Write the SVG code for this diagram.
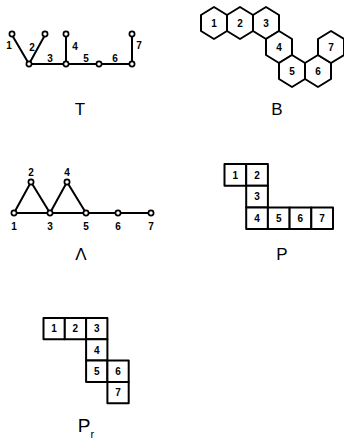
<svg xmlns="http://www.w3.org/2000/svg" width="344" height="442" viewBox="0 0 344 442">
<defs>
<style>
.edge{stroke:#000;stroke-width:2;fill:none;stroke-linecap:round}
.v{fill:#fff;stroke:#000;stroke-width:1.7}
.lbl{font-family:"Liberation Sans",Arial,sans-serif;font-weight:bold;font-size:10px;fill:#000;text-anchor:middle}
.cell{fill:#fff;stroke:#000;stroke-width:2;stroke-linejoin:round}
.title{font-family:"Liberation Sans",Arial,sans-serif;font-size:17px;fill:#000;text-anchor:middle}
</style>
<polygon id="hex" points="0,-16 13,-8 13,8 0,16 -13,8 -13,-8"/>
</defs>
<rect width="344" height="442" fill="#fff"/>

<!-- T -->
<g id="graphT">
<g id="T-edges">
<line class="edge" x1="12" y1="35" x2="29" y2="64"/>
<line class="edge" x1="45" y1="35" x2="29" y2="64"/>
<line class="edge" x1="66" y1="35" x2="66" y2="64"/>
<line class="edge" x1="132" y1="35" x2="132" y2="64"/>
<line class="edge" x1="29" y1="64" x2="132" y2="64"/>
</g>
<g id="T-nodes">
<circle class="v" cx="12" cy="34" r="2.6"/>
<circle class="v" cx="45" cy="34" r="2.6"/>
<circle class="v" cx="66" cy="34" r="2.6"/>
<circle class="v" cx="132" cy="34" r="2.6"/>
<circle class="v" cx="29" cy="64" r="2.6"/>
<circle class="v" cx="66" cy="64" r="2.6"/>
<circle class="v" cx="99" cy="64" r="2.6"/>
<circle class="v" cx="132" cy="64" r="2.6"/>
</g>
<text class="lbl" x="9" y="49">1</text>
<text class="lbl" x="32" y="51">2</text>
<text class="lbl" x="50" y="62">3</text>
<text class="lbl" x="75" y="50">4</text>
<text class="lbl" x="86" y="62">5</text>
<text class="lbl" x="115" y="62">6</text>
<text class="lbl" x="139" y="49">7</text>
<text class="title" x="80" y="115">T</text>
</g>

<!-- B -->
<g id="graphB">
<g id="hex1"><use href="#hex" class="cell" x="214" y="23"/><text class="lbl" x="214" y="27">1</text></g>
<g id="hex2"><use href="#hex" class="cell" x="240" y="23"/><text class="lbl" x="240" y="27">2</text></g>
<g id="hex3"><use href="#hex" class="cell" x="266" y="23"/><text class="lbl" x="266" y="27">3</text></g>
<g id="hex4"><use href="#hex" class="cell" x="279" y="47"/><text class="lbl" x="279" y="51">4</text></g>
<g id="hex5"><use href="#hex" class="cell" x="292" y="71"/><text class="lbl" x="292" y="75">5</text></g>
<g id="hex6"><use href="#hex" class="cell" x="318" y="71"/><text class="lbl" x="318" y="75">6</text></g>
<g id="hex7"><use href="#hex" class="cell" x="331" y="47"/><text class="lbl" x="331" y="51">7</text></g>
<text class="title" x="277" y="115">B</text>
</g>

<!-- Lambda -->
<g id="graphL">
<g id="L-edges">
<line class="edge" x1="14" y1="213" x2="151" y2="213"/>
<polyline class="edge" points="14,213 31,182 50,213 67,182 86,213"/>
</g>
<g id="L-nodes">
<circle class="v" cx="14" cy="213" r="2.6"/>
<circle class="v" cx="31" cy="182" r="2.6"/>
<circle class="v" cx="50" cy="213" r="2.6"/>
<circle class="v" cx="67" cy="182" r="2.6"/>
<circle class="v" cx="86" cy="213" r="2.6"/>
<circle class="v" cx="118" cy="213" r="2.6"/>
<circle class="v" cx="151" cy="213" r="2.6"/>
</g>
<text class="lbl" x="31" y="176">2</text>
<text class="lbl" x="67" y="176">4</text>
<text class="lbl" x="14" y="230">1</text>
<text class="lbl" x="50" y="230">3</text>
<text class="lbl" x="86" y="230">5</text>
<text class="lbl" x="118" y="230">6</text>
<text class="lbl" x="151" y="230">7</text>
<text class="title" x="81" y="260">Λ</text>
</g>

<!-- P -->
<g id="graphP">
<g id="P1"><rect class="cell" x="224.5" y="164" width="21.7" height="21.7"/><text class="lbl" x="235.3" y="178.5">1</text></g>
<g id="P2"><rect class="cell" x="246.2" y="164" width="21.7" height="21.7"/><text class="lbl" x="257" y="178.5">2</text></g>
<g id="P3"><rect class="cell" x="246.2" y="185.7" width="21.7" height="21.7"/><text class="lbl" x="257" y="200">3</text></g>
<g id="P4"><rect class="cell" x="246.2" y="207.4" width="21.7" height="21.7"/><text class="lbl" x="257" y="222">4</text></g>
<g id="P5"><rect class="cell" x="267.9" y="207.4" width="21.7" height="21.7"/><text class="lbl" x="278.7" y="222">5</text></g>
<g id="P6"><rect class="cell" x="289.6" y="207.4" width="21.7" height="21.7"/><text class="lbl" x="300.4" y="222">6</text></g>
<g id="P7"><rect class="cell" x="311.3" y="207.4" width="21.7" height="21.7"/><text class="lbl" x="322.1" y="222">7</text></g>
<text class="title" x="282" y="260">P</text>
</g>

<!-- Pr -->
<g id="graphPr">
<g id="R1"><rect class="cell" x="43.5" y="318" width="21.3" height="21.3"/><text class="lbl" x="54.1" y="332.3">1</text></g>
<g id="R2"><rect class="cell" x="64.8" y="318" width="21.3" height="21.3"/><text class="lbl" x="75.4" y="332.3">2</text></g>
<g id="R3"><rect class="cell" x="86.1" y="318" width="21.3" height="21.3"/><text class="lbl" x="96.7" y="332.3">3</text></g>
<g id="R4"><rect class="cell" x="86.1" y="339.3" width="21.3" height="21.3"/><text class="lbl" x="96.7" y="353.6">4</text></g>
<g id="R5"><rect class="cell" x="86.1" y="360.6" width="21.3" height="21.3"/><text class="lbl" x="96.7" y="374.9">5</text></g>
<g id="R6"><rect class="cell" x="107.4" y="360.6" width="21.3" height="21.3"/><text class="lbl" x="118" y="374.9">6</text></g>
<g id="R7"><rect class="cell" x="107.4" y="381.9" width="21.3" height="21.3"/><text class="lbl" x="118" y="396.2">7</text></g>
<text class="title" x="86" y="432" style="font-size:19px">P<tspan font-size="11" dy="6">r</tspan></text>
</g>
</svg>
